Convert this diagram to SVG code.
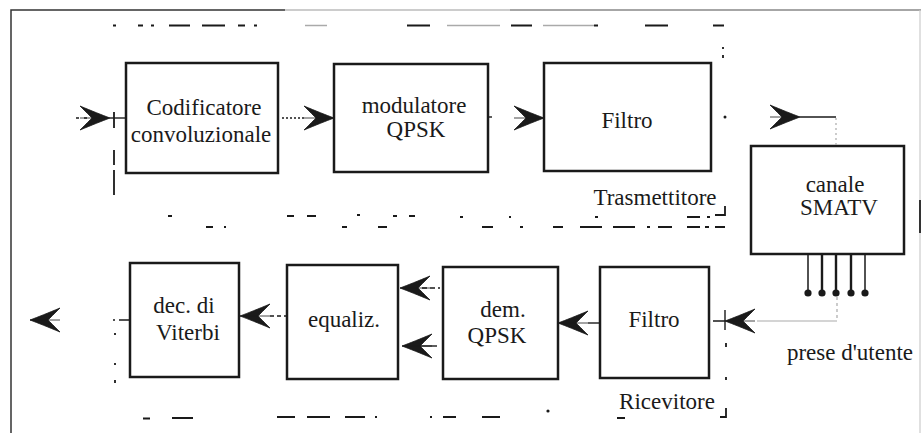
<svg xmlns="http://www.w3.org/2000/svg" width="922" height="433" viewBox="0 0 922 433">
<style>
.box{fill:#fff;stroke:#1a1a1a;stroke-width:2.5}
.t{font-family:"Liberation Serif","Times New Roman",serif;font-size:23px;fill:#1a1a1a;text-anchor:middle}
.frame{fill:none;stroke:#333;stroke-width:1.5}
.dash{fill:none;stroke:#1a1a1a;stroke-width:1.8}
.gdash{fill:none;stroke:#aaa;stroke-width:1.6}
.ln{fill:none;stroke:#1a1a1a;stroke-width:1.4}
.faint{fill:none;stroke:#aaa;stroke-width:1.2}
.ah{fill:#1a1a1a;stroke:#1a1a1a;stroke-width:0.8}
</style>
<defs>
<path id="ah" class="ah" d="M0,0 C-8,-3 -18,-7 -30,-12 C-24,-6 -20,-2 -18,0 C-20,2 -24,6 -30,12 C-18,7 -8,3 0,0 Z M-30,0 H0"/>
</defs>
<rect width="922" height="433" fill="#fff"/>
<g id="outer-frame">
<path class="frame" d="M11,433 V10 H285"/>
<path d="M285,10 H510" stroke="#ccc" stroke-width="2" fill="none"/>
<path d="M510,10 H921" stroke="#888" stroke-width="1.5" fill="none"/>
<path d="M920,10 V433" stroke="#ccc" stroke-width="1.2" fill="none"/>
<path d="M920,200 V233" stroke="#333" stroke-width="2" fill="none"/>
</g>
<g id="trasmettitore-frame">
<path class="dash" d="M113,25.5h3 M138,25.5h5 M151,25.5h3 M169,25.5h21 M202,25.5h23 M238,25.5h7 M254,25.5h3 M407,25.5h13 M420,25.5h10 M511,25.5h21 M594,25.5h4 M645,25.5h23 M713,25.5h11"/>
<path class="gdash" d="M305,25.5h22 M447,25.5h53 M543,25.5h51"/>
<path class="dash" d="M723,47v2 M723,55v3"/>
<path class="dash" d="M114,112v16 M114,150v15 M114,170v25"/>
<path class="dash" d="M725,206v9 h-10"/>
<path class="dash" d="M168,216h4 M287,216h7 M307,216h9 M357,215h3 M393,216h4 M409,216h6 M460,217h3 M509,217h2 M595,217h3 M687,217h13 M707,217h3"/>
<text class="t" x="655" y="205">Trasmettitore</text>
</g>
<g id="ricevitore-frame">
<path class="dash" d="M206,227h7 M224,227h2 M342,227h5 M378,227h9 M482,227h11 M520,227h3 M553,227h10 M580,227h22 M613,227h22 M647,227h3 M658,227h14 M687,227h13 M705,227h4 M715,227h10"/>
<path class="dash" d="M115,333v2 M115,363v2 M115,380v3"/>
<path class="dash" d="M726,343v4 M726,377v3 M726,408v9h-6"/>
<path class="dash" d="M143,418.5h7 M172,418h21 M277,417h18 M307,417h23 M345,417h20 M375,417h2 M430,417h2 M443,417h13 M482,417h18 M617,418h8"/>
<circle cx="548" cy="411" r="1.6" fill="#1a1a1a"/>
<text class="t" x="667" y="409">Ricevitore</text>
</g>
<g id="codificatore">
<rect class="box" x="126" y="63" width="152" height="110"/>
<text class="t" x="204" y="115">Codificatore</text>
<text class="t" x="201" y="142">convoluzionale</text>
</g>
<g id="modulatore">
<rect class="box" x="334" y="64" width="154" height="108"/>
<text class="t" x="414" y="113">modulatore</text>
<text class="t" x="416" y="137">QPSK</text>
</g>
<g id="filtro-tx">
<rect class="box" x="544" y="63" width="167" height="108"/>
<text class="t" x="627" y="128">Filtro</text>
</g>
<g id="canale">
<rect class="box" x="751" y="146" width="153" height="108"/>
<text class="t" x="835" y="192">canale</text>
<text class="t" x="839" y="215">SMATV</text>
</g>
<g id="prese">
<path d="M808,254V293 M865,254V293" stroke="#1a1a1a" stroke-width="1.5"/>
<path d="M822,254V293 M836,254V293 M851,254V293" stroke="#1a1a1a" stroke-width="2.4"/>
<circle cx="808" cy="293" r="3.6" fill="#1a1a1a"/>
<circle cx="822" cy="293" r="3.6" fill="#1a1a1a"/>
<circle cx="836" cy="293" r="3.6" fill="#1a1a1a"/>
<circle cx="851" cy="293" r="3.6" fill="#1a1a1a"/>
<circle cx="865" cy="293" r="3.6" fill="#1a1a1a"/>
<text class="t" x="850" y="360">prese d'utente</text>
</g>
<g id="filtro-rx">
<rect class="box" x="600" y="267" width="109" height="111"/>
<text class="t" x="654" y="327">Filtro</text>
</g>
<g id="demodulatore">
<rect class="box" x="443" y="267" width="115" height="112"/>
<text class="t" x="503" y="317">dem.</text>
<text class="t" x="497" y="343">QPSK</text>
</g>
<g id="equalizzatore">
<rect class="box" x="287" y="265" width="111" height="114"/>
<text class="t" x="344" y="327">equaliz.</text>
</g>
<g id="decodificatore">
<rect class="box" x="130" y="263" width="109" height="114"/>
<text class="t" x="184" y="313">dec. di</text>
<text class="t" x="188" y="340">Viterbi</text>
</g>
<g id="connectors">
<path class="ln" d="M76,118h5 M84,118h4" stroke-dasharray="3 2"/>
<use href="#ah" transform="translate(110,118)"/>
<path class="ln" d="M110,118H126"/>
<path class="ln" d="M282,118H304" stroke-dasharray="2 2"/>
<use href="#ah" transform="translate(334,118)"/>
<path class="ln" d="M488,117h4"/>
<use href="#ah" transform="translate(544,118)"/>
<circle cx="725" cy="117" r="1.5" fill="#1a1a1a"/>
<use href="#ah" transform="translate(800,117)"/>
<path class="ln" d="M800,117H836"/>
<path class="faint" d="M836,118V146" stroke-dasharray="2 3"/>
<path class="faint" d="M837,297V321" stroke-dasharray="3 3"/>
<path class="faint" d="M837,321H757"/>
<use href="#ah" transform="translate(725,321) scale(-1,1)"/>
<path class="ln" d="M713,321H725 M725,310V330"/>
<use href="#ah" transform="translate(558,323) scale(-1,1)"/>
<path class="ln" d="M588,323H600"/>
<use href="#ah" transform="translate(400,288) scale(-1,1)"/>
<path class="ln" d="M422,288H440" stroke-dasharray="5 3"/>
<use href="#ah" transform="translate(402,346) scale(-1,1)"/>
<path class="ln" d="M420,346H437"/>
<use href="#ah" transform="translate(240,316) scale(-1,1)"/>
<path class="ln" d="M270,316H287" stroke-dasharray="4 3"/>
<path class="ln" d="M113,320h2 M119,320H130"/>
<use href="#ah" transform="translate(30,320) scale(-1,1)"/>
</g>
</svg>
